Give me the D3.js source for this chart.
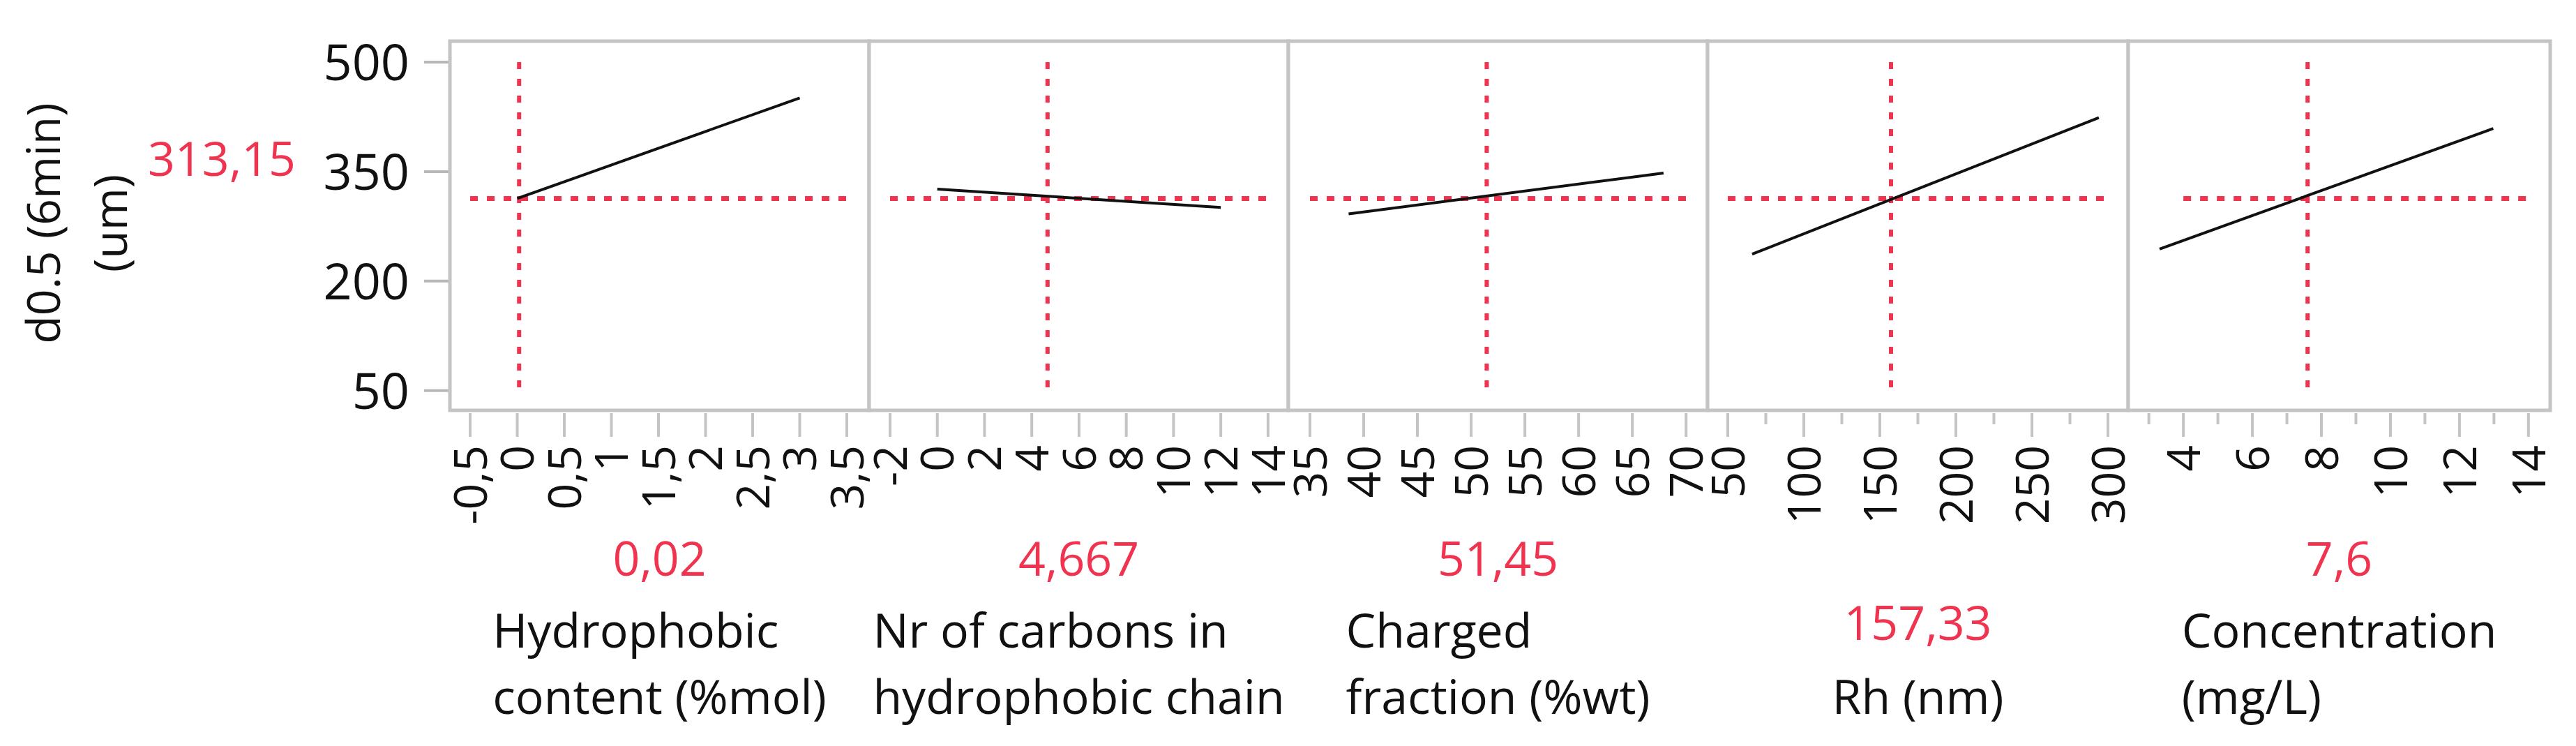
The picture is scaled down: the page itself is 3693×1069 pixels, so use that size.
<!DOCTYPE html>
<html><head><meta charset="utf-8">
<script src="https://cdn.jsdelivr.net/npm/d3@7"></script>
<style>body{margin:0;background:#fff}text{font-family:"Open Sans",sans-serif}</style>
</head><body><div id="chart"></div>
<script>
// factors
const factorLabels = [["Hydrophobic","content (%mol)"],["Nr of carbons in","hydrophobic chain"],["Charged","fraction (%wt)"],["Rh (nm)"],["Concentration","(mg/L)"]];
const factorDomains = [[-0.715,3.737],[-2.885,14.86],[32.99,72.0],[36.7,313.3],[2.4,14.63]];
const currentValues = [0.02,4.667,51.45,157.33,7.6];
const currentLabels = ["0,02","4,667","51,45","157,33","7,6"];
const majorTicks = [[-0.5,0,0.5,1,1.5,2,2.5,3,3.5],[-2,0,2,4,6,8,10,12,14],[35,40,45,50,55,60,65,70],[50,100,150,200,250,300],[4,6,8,10,12,14]];
const minorTicks = [[],[],[],[75,125,175,225,275],[3,5,7,9,11,13]];
// profile lines: x ends and predicted y ends
const profileX = [[0,3],[0,12],[38.6,67.9],[66,294],[3.31,12.98]];
const profileY = [[313.15,451],[326,301],[292,348],[237,424],[244,409]];
const yTicks = [50,200,350,500];
const responseValue = 313.15, responseLabel = "313,15";

const W = 3693, H = 1069;
const panelTop = 59, panelBottom = 588, panelEdges = [645,1246,1847,2448,3051,3656];
const red = "#f0334f", fmt = v => String(v).replace(".", ",");

const svg = d3.select("#chart").append("svg").attr("width", W).attr("height", H);
const y = d3.scaleLinear().domain([23, 528.7]).range([panelBottom, panelTop]);

// y axis
const yAxis = svg.append("g");
yAxis.selectAll("line").data(yTicks).join("line")
  .attr("x1", 608).attr("x2", panelEdges[0]).attr("y1", d => y(d)).attr("y2", d => y(d))
  .attr("stroke", "#b8b8b8").attr("stroke-width", 4);
yAxis.selectAll("text").data(yTicks).join("text")
  .attr("x", 587).attr("y", d => y(d)).attr("dy", "0.36em").attr("text-anchor", "end")
  .attr("font-size", 72).attr("fill", "#111").text(d => d);
svg.append("text").attr("transform", `translate(86,320) rotate(-90)`).attr("text-anchor", "middle")
  .attr("font-size", 66).attr("fill", "#111").text("d0.5 (6min)");
svg.append("text").attr("transform", `translate(182,320) rotate(-90)`).attr("text-anchor", "middle")
  .attr("font-size", 66).attr("fill", "#111").text("(um)");
svg.append("text").attr("x", 424).attr("y", 252).attr("text-anchor", "end")
  .attr("font-size", 68).attr("fill", red).text(responseLabel);

factorLabels.forEach((lab, i) => {
  const x0 = panelEdges[i], x1 = panelEdges[i + 1];
  const x = d3.scaleLinear().domain(factorDomains[i]).range([x0, x1]);
  const g = svg.append("g");
  // frame
  g.append("rect").attr("x", x0).attr("y", panelTop).attr("width", x1 - x0).attr("height", panelBottom - panelTop)
    .attr("fill", "#fff").attr("stroke", "#c4c4c4").attr("stroke-width", 5);
  const xs = majorTicks[i];
  // reference lines
  g.append("line").attr("x1", x(xs[0])).attr("x2", x(xs[xs.length - 1]))
    .attr("y1", y(responseValue)).attr("y2", y(responseValue))
    .attr("stroke", red).attr("stroke-width", 7).attr("stroke-dasharray", "11 13");
  g.append("line").attr("x1", x(currentValues[i])).attr("x2", x(currentValues[i]))
    .attr("y1", y(500)).attr("y2", y(50))
    .attr("stroke", red).attr("stroke-width", 6).attr("stroke-dasharray", "10 14");
  // profile
  g.append("line").attr("x1", x(profileX[i][0])).attr("x2", x(profileX[i][1]))
    .attr("y1", y(profileY[i][0])).attr("y2", y(profileY[i][1]))
    .attr("stroke", "#111").attr("stroke-width", 4);
  // x ticks
  g.selectAll("line.maj").data(xs).join("line").attr("class", "maj")
    .attr("x1", d => x(d)).attr("x2", d => x(d)).attr("y1", panelBottom + 4).attr("y2", 626)
    .attr("stroke", "#c4c4c4").attr("stroke-width", 4);
  g.selectAll("line.min").data(minorTicks[i]).join("line").attr("class", "min")
    .attr("x1", d => x(d)).attr("x2", d => x(d)).attr("y1", panelBottom + 4).attr("y2", 608)
    .attr("stroke", "#c4c4c4").attr("stroke-width", 4);
  g.selectAll("text.tl").data(xs).join("text").attr("class", "tl")
    .attr("transform", d => `translate(${x(d)},638) rotate(-90)`).attr("dy", "0.36em")
    .attr("text-anchor", "end").attr("font-size", 66).attr("fill", "#111").text(d => fmt(d));
  // value + label block
  const cx = (x0 + x1) / 2;
  const baselines = lab.length === 2 ? [825, 928, 1023] : [917, 1023];
  const labelTexts = lab.map((t, k) => g.append("text").attr("font-size", 68).attr("fill", "#111")
    .attr("y", baselines[k + 1]).text(t));
  const wmax = d3.max(labelTexts, t => t.node().getComputedTextLength());
  labelTexts.forEach(t => t.attr("x", lab.length > 1 ? cx - wmax / 2 : cx).attr("text-anchor", lab.length > 1 ? "start" : "middle"));
  g.append("text").attr("x", cx).attr("y", baselines[0]).attr("text-anchor", "middle")
    .attr("font-size", 68).attr("fill", red).text(currentLabels[i]);
});
</script></body></html>
